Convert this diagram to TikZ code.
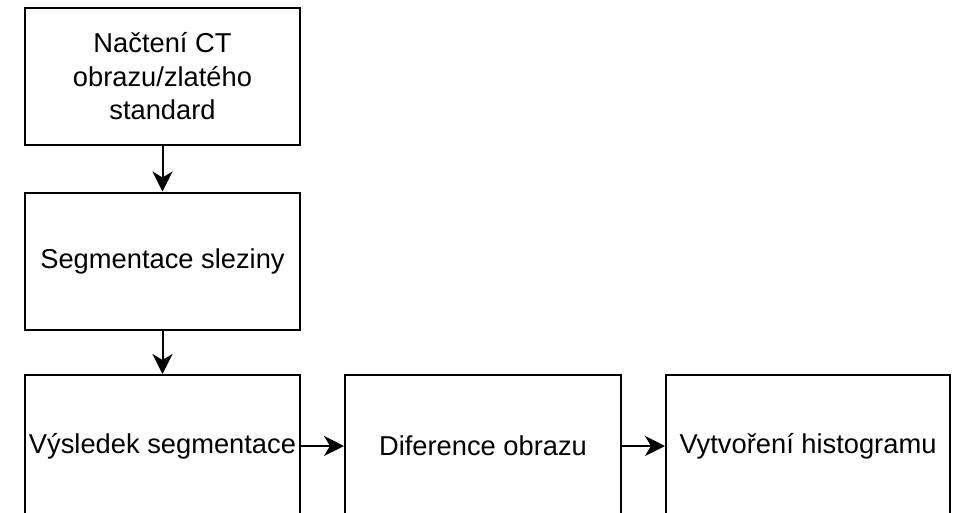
\documentclass[tikz,border=0pt]{standalone}
\usepackage{fontspec}
\setmainfont{Liberation Sans}
\usetikzlibrary{arrows.meta}
\begin{document}
\begin{tikzpicture}[x=1pt,y=-1pt,
  box/.style={draw, line width=2pt, minimum width=275pt, minimum height=137pt, align=center,
    font=\fontsize{27.3}{33.5}\selectfont, inner sep=0pt},
  lowbox/.style={box, minimum height=142pt},
  arr/.style={-{Stealth[length=20pt,width=20pt,inset=6pt]}, line width=2pt}]
\useasboundingbox (0,0) rectangle (961,512);
\clip (0,0) rectangle (961,512);
\node[box] (load) at (162.5,76.5) {Načtení CT\\obrazu/zlatého\\standard};
\node[box] (seg) at (162.5,261) {Segmentace sleziny};
\node[lowbox] (res) at (162.5,446) {Výsledek segmentace};
\node[lowbox, minimum width=276pt] (diff) at (483,446) {Diference obrazu};
\node[lowbox, minimum width=284pt] (hist) at (808,446) {Vytvoření histogramu};
\draw[arr] (load) -- (seg);
\draw[arr] (seg) -- (res);
\draw[arr] (res) -- (diff);
\draw[arr] (diff) -- (hist);
\end{tikzpicture}
\end{document}
